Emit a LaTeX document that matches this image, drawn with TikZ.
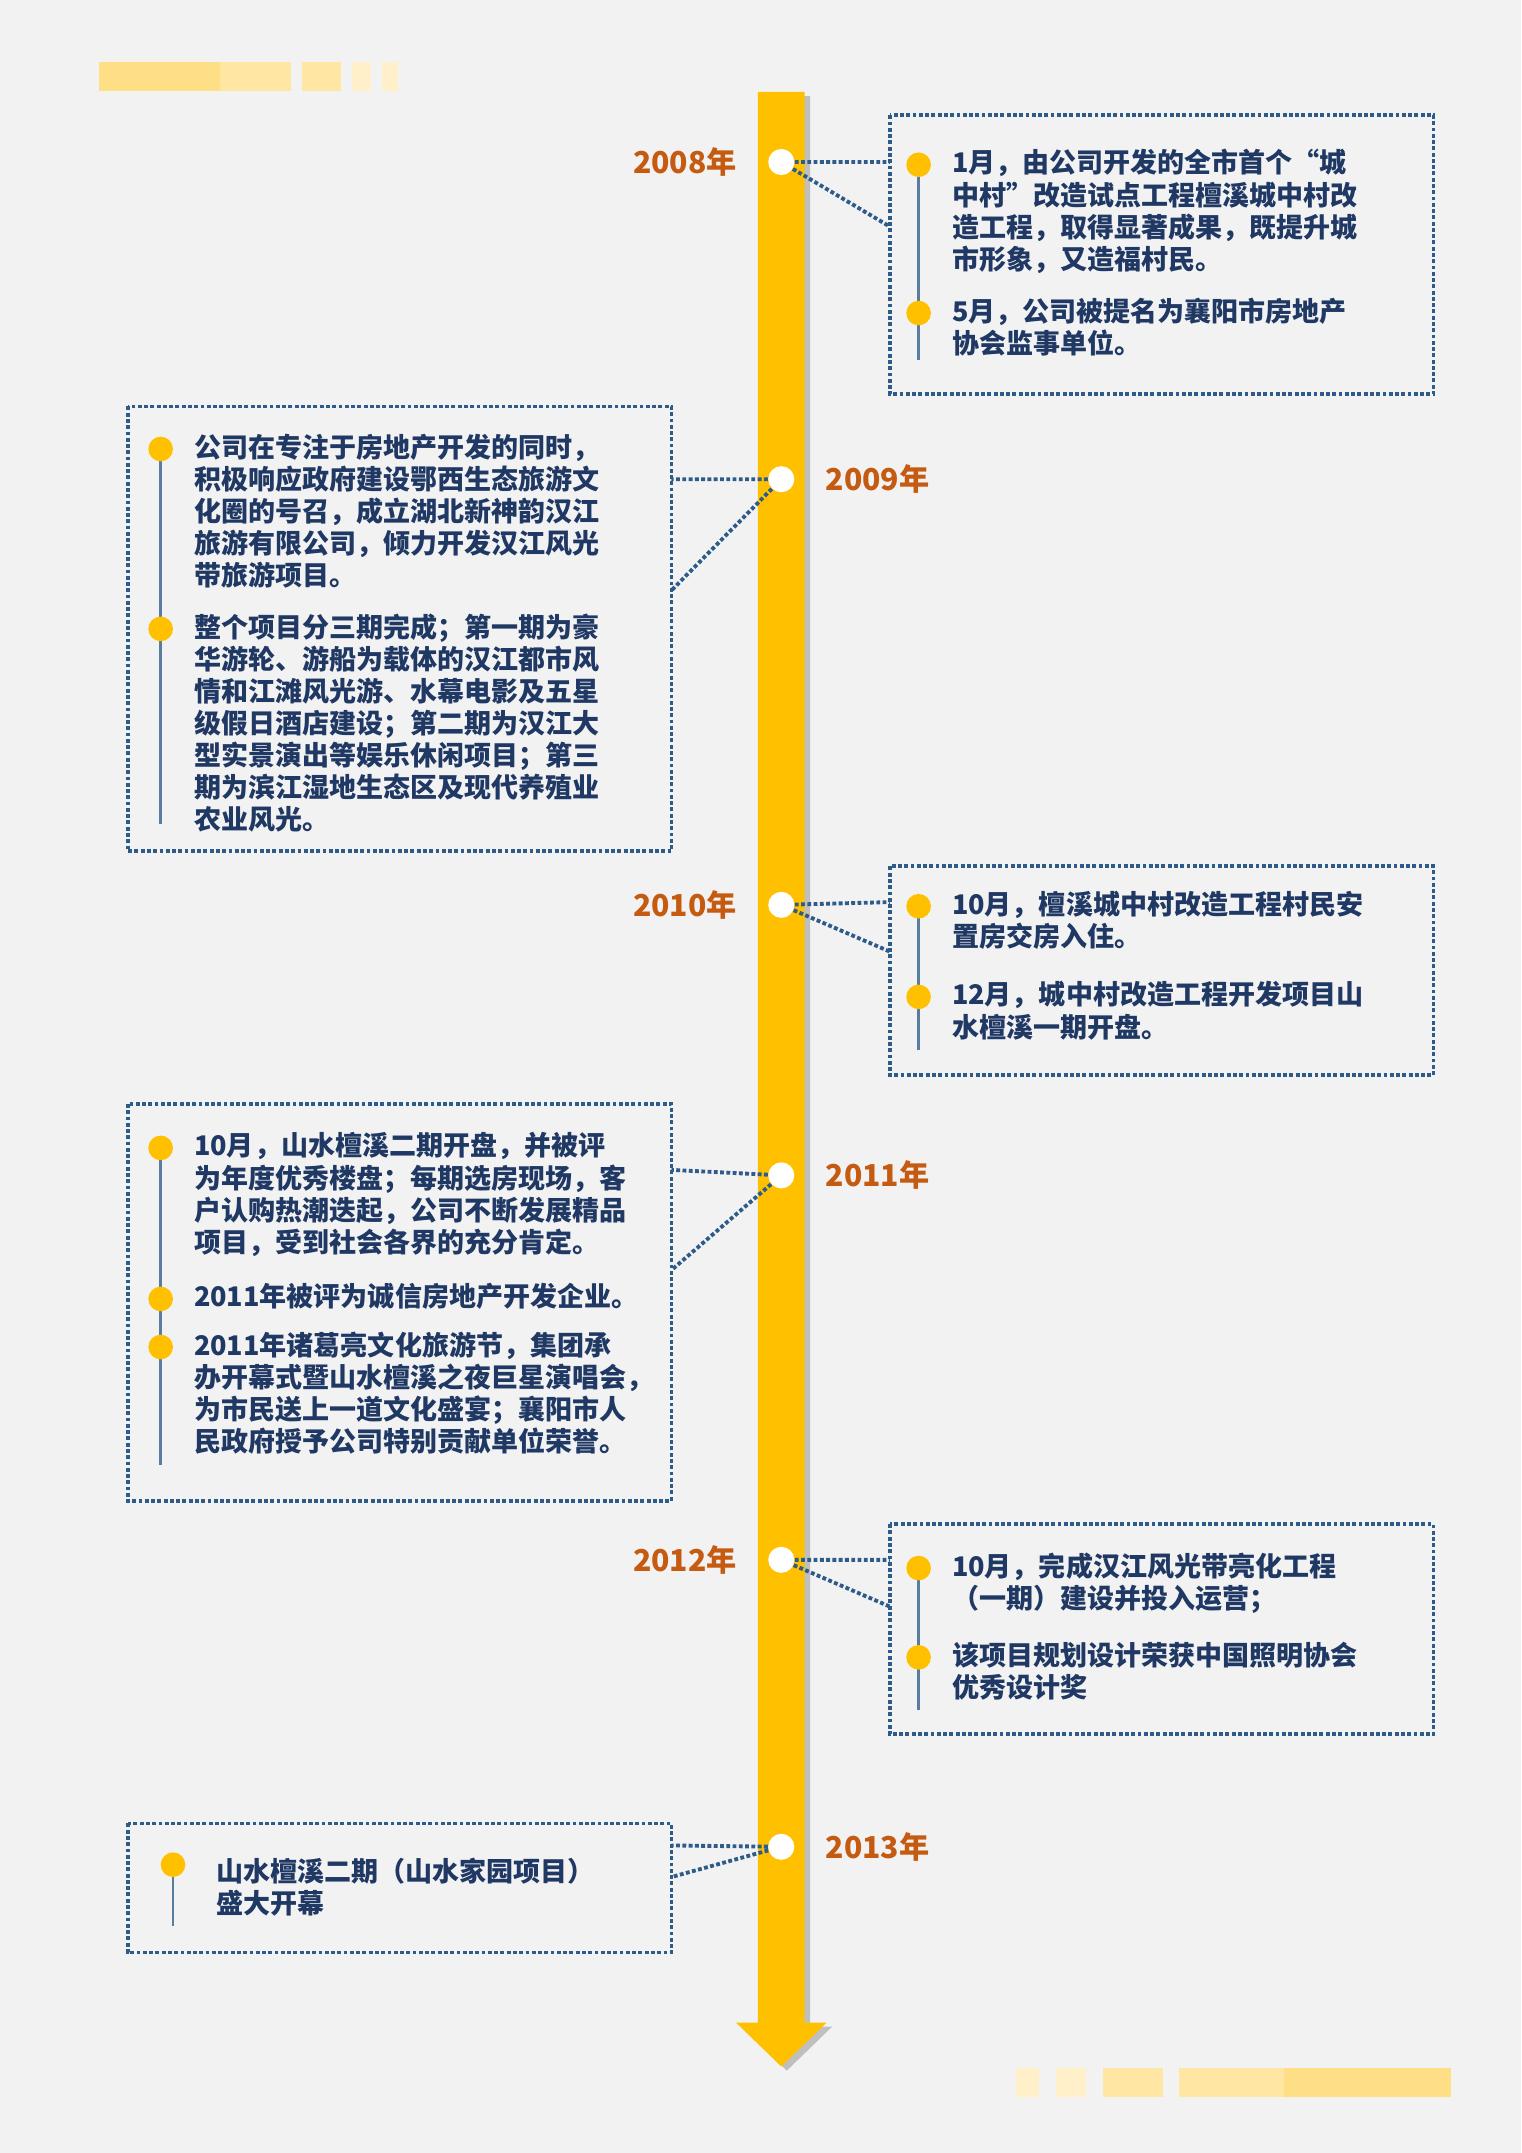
\documentclass[tikz,border=0pt]{standalone}
\usepackage{fontspec}
\setmainfont{Noto Sans CJK SC}
\definecolor{bg}{HTML}{F2F2F2}
\definecolor{axis}{HTML}{FFC000}
\definecolor{navy}{HTML}{1F3864}
\definecolor{frame}{HTML}{2E5C8A}
\definecolor{yr}{HTML}{C55A11}
\definecolor{bar1}{HTML}{FFDF85}
\definecolor{bar2}{HTML}{FFE6A3}
\definecolor{bar3}{HTML}{FFF0C9}
\tikzset{
  box/.style={draw=frame, densely dotted, line width=1.6pt},
  link/.style={draw=frame, densely dotted, line width=1.6pt},
  stem/.style={draw=frame!80, line width=1.2pt},
  bullet/.style={circle, fill=axis, inner sep=0pt, minimum size=17pt*0.6},
  yeardot/.style={circle, fill=white, inner sep=0pt, minimum size=18pt*0.6},
  year/.style={text=yr, font=\fontsize{12.5}{14}\selectfont\bfseries, inner sep=0pt},
  txt/.style={text=navy, font=\fontsize{11.2}{13.3}\selectfont\bfseries, align=left, inner sep=0pt, anchor=north west}
}
\newcommand{\entry}[4]{% name, bullet x, y, text
  \node[bullet] (#1) at (#2,#3) {};
  \node[txt] (#1t) at (#2+24,#3-11.5) {#4};
}
\begin{document}
\begin{tikzpicture}[x=0.02cm, y=-0.02cm]
\fill[bg] (0,0) rectangle (1108,1568);
\useasboundingbox (0,0) rectangle (1108,1568);
% decorative bars
\fill[bar1] (72,45) rectangle (160,66);
\fill[bar2] (160,45) rectangle (212,66);
\fill[bar2] (220,45) rectangle (248,66);
\fill[bar3] (256,45) rectangle (270,66);
\fill[bar3] (278,45) rectangle (290,66);
\fill[bar3] (740,1506) rectangle (757,1527);
\fill[bar3] (769,1506) rectangle (791,1527);
\fill[bar2] (803,1506) rectangle (847,1527);
\fill[bar2] (859,1506) rectangle (935,1527);
\fill[bar1] (935,1506) rectangle (1057,1527);
% axis
\fill[black!25] (556,70) -- (590,70) -- (590,1476) -- (606,1476) -- (573,1508) -- (540,1476) -- (556,1476) -- cycle;
\fill[axis] (552,67) -- (586,67) -- (586,1473) -- (602,1473) -- (569,1505) -- (536,1473) -- (552,1473) -- cycle;
% year dots and labels
\node[yeardot] (d08) at (569,118) {};
\node[yeardot] (d09) at (569,349) {};
\node[yeardot] (d10) at (569,659) {};
\node[yeardot] (d11) at (569,856) {};
\node[yeardot] (d12) at (569,1136) {};
\node[yeardot] (d13) at (569,1345) {};
\node[year, anchor=east] at (537,118) {2008年};
\node[year, anchor=west] at (601,349) {2009年};
\node[year, anchor=east] at (537,659) {2010年};
\node[year, anchor=west] at (601,856) {2011年};
\node[year, anchor=east] at (537,1136) {2012年};
\node[year, anchor=west] at (601,1345) {2013年};
% boxes
\draw[box] (648,84) rectangle (1044,287);
\draw[box] (93,296) rectangle (489,620);
\draw[box] (648,631) rectangle (1044,783);
\draw[box] (93,804) rectangle (489,1093);
\draw[box] (648,1110) rectangle (1044,1263);
\draw[box] (93,1328) rectangle (489,1422);
% connectors
\coordinate (c08a) at (648,118); \coordinate (c08b) at (648,165);
\coordinate (c09a) at (489,349); \coordinate (c09b) at (489,430);
\coordinate (c10a) at (648,657); \coordinate (c10b) at (648,693);
\coordinate (c11a) at (489,852); \coordinate (c11b) at (489,925);
\coordinate (c12a) at (648,1136); \coordinate (c12b) at (648,1170);
\coordinate (c13a) at (489,1344); \coordinate (c13b) at (489,1367);
\foreach \d/\a/\b in {d08/c08a/c08b, d09/c09a/c09b, d10/c10a/c10b, d11/c11a/c11b, d12/c12a/c12b, d13/c13a/c13b}
  \draw[link] (\d) -- (\a) (\d) -- (\b);
% stems
\draw[stem] (669,118) -- (669,262);
\draw[stem] (117,327) -- (117,600);
\draw[stem] (669,660) -- (669,765);
\draw[stem] (117,836) -- (117,1067);
\draw[stem] (669,1142) -- (669,1245);
\draw[stem] (126,1358) -- (126,1403);
% entries
\entry{e1}{669}{120}{1月，由公司开发的全市首个“城\\中村”改造试点工程檀溪城中村改\\造工程，取得显著成果，既提升城\\市形象，又造福村民。}
\entry{e2}{669}{228}{5月，公司被提名为襄阳市房地产\\协会监事单位。}
\entry{e3}{117}{327}{公司在专注于房地产开发的同时，\\积极响应政府建设鄂西生态旅游文\\化圈的号召，成立湖北新神韵汉江\\旅游有限公司，倾力开发汉江风光\\带旅游项目。}
\entry{e4}{117}{458}{整个项目分三期完成；第一期为豪\\华游轮、游船为载体的汉江都市风\\情和江滩风光游、水幕电影及五星\\级假日酒店建设；第二期为汉江大\\型实景演出等娱乐休闲项目；第三\\期为滨江湿地生态区及现代养殖业\\农业风光。}
\entry{e5}{669}{660}{10月，檀溪城中村改造工程村民安\\置房交房入住。}
\entry{e6}{669}{726}{12月，城中村改造工程开发项目山\\水檀溪一期开盘。}
\entry{e7}{117}{836}{10月，山水檀溪二期开盘，并被评\\为年度优秀楼盘；每期选房现场，客\\户认购热潮迭起，公司不断发展精品\\项目，受到社会各界的充分肯定。}
\entry{e8}{117}{946}{2011年被评为诚信房地产开发企业。}
\entry{e9}{117}{981}{2011年诸葛亮文化旅游节，集团承\\办开幕式暨山水檀溪之夜巨星演唱会，\\为市民送上一道文化盛宴；襄阳市人\\民政府授予公司特别贡献单位荣誉。}
\entry{e10}{669}{1142}{10月，完成汉江风光带亮化工程\\（一期）建设并投入运营；}
\entry{e11}{669}{1207}{该项目规划设计荣获中国照明协会\\优秀设计奖}
\node[bullet] (e12) at (126,1358) {};
\node[txt] (e12t) at (157,1353) {山水檀溪二期（山水家园项目）\\盛大开幕};
\end{tikzpicture}
\end{document}
